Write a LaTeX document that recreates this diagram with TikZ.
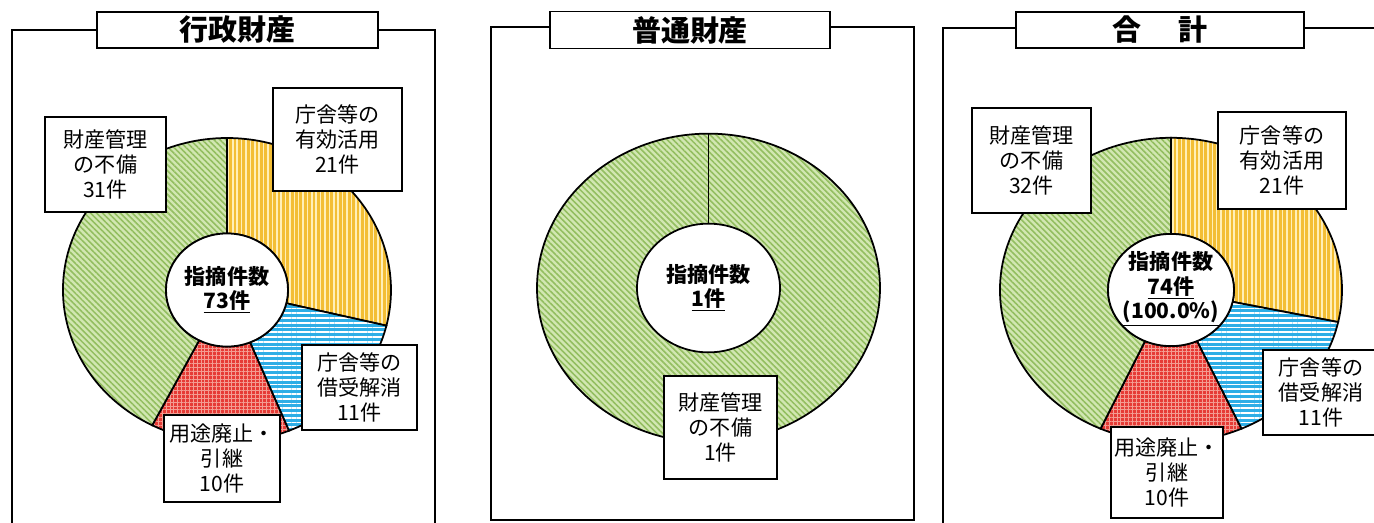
\documentclass[tikz,border=0pt]{standalone}
\usepackage{fontspec}
\setmainfont{Noto Sans CJK JP}
\usetikzlibrary{patterns.meta}

\definecolor{pieyellow}{HTML}{F3BE35}
\definecolor{pieyellowlt}{HTML}{FFEFB8}
\definecolor{pieblue}{HTML}{2EAEE6}
\definecolor{piered}{HTML}{E63B36}
\definecolor{pieredlt}{HTML}{F39C92}
\definecolor{piegreen}{HTML}{D2E7B2}
\definecolor{piegreendk}{HTML}{93BE60}

\tikzset{
  panelframe/.style={line width=1.1pt},
  titlebox/.style={draw, line width=1.1pt, fill=white, inner sep=0pt,
    font=\fontsize{16.5}{18}\selectfont\bfseries},
  labelbox/.style={draw, line width=1pt, fill=white, align=center, inner sep=0pt,
    font=\fontsize{12}{14.4}\selectfont},
  countlabel/.style={align=center, inner sep=0pt,
    font=\fontsize{12}{13.8}\selectfont\bfseries},
  hole/.style={draw, line width=1pt, fill=white},
  yellowpart/.style={draw, line width=1pt, preaction={fill=pieyellow},
    pattern={Lines[angle=90, distance=2.5pt, line width=0.9pt]}, pattern color=pieyellowlt},
  bluepart/.style={draw, line width=1pt, preaction={fill=pieblue},
    pattern={Lines[angle=0, distance=2.7pt, line width=1pt]}, pattern color=white},
  redpart/.style={draw, line width=1pt, preaction={fill=piered},
    pattern={Hatch[angle=0, distance=2.2pt, line width=0.5pt]}, pattern color=pieredlt},
  greenpart/.style={draw, line width=1pt, preaction={fill=piegreen},
    pattern={Lines[angle=-45, distance=2.4pt, line width=0.9pt]}, pattern color=piegreendk},
}

\begin{document}
\begin{tikzpicture}[x=0.02cm, y=-0.02cm]
\useasboundingbox (0,0) rectangle (1374,522);
\clip (0,0) rectangle (1374,522);

% Panel frames
\draw[panelframe] (12,30) rectangle (435,560);
\draw[panelframe] (491,27) rectangle (914,520);
\draw[panelframe] (943,28) rectangle (1400,560);

% Panel titles
\node[titlebox, minimum width=5.62cm, minimum height=0.72cm] (title1) at (237.5,30) {行政財産};
\node[titlebox, minimum width=5.60cm, minimum height=0.74cm] (title2) at (690,30) {普通財産};
\node[titlebox, minimum width=5.76cm, minimum height=0.72cm] (title3) at (1160,30) {合\hspace{1.3em}計};

% Pie 1: 21 / 11 / 10 / 31 of 73
\begin{scope}[shift={(227,290)}, x=0.02cm, y=0.01854cm]
\filldraw[yellowpart] (90:164) arc[start angle=90, end angle=-13.56, radius=164] -- (-13.56:61) arc[start angle=-13.56, end angle=90, radius=61] -- cycle;
\filldraw[bluepart] (-13.56:164) arc[start angle=-13.56, end angle=-67.81, radius=164] -- (-67.81:61) arc[start angle=-67.81, end angle=-13.56, radius=61] -- cycle;
\filldraw[redpart] (-67.81:164) arc[start angle=-67.81, end angle=-117.12, radius=164] -- (-117.12:61) arc[start angle=-117.12, end angle=-67.81, radius=61] -- cycle;
\filldraw[greenpart] (-117.12:164) arc[start angle=-117.12, end angle=-270, radius=164] -- (90:61) arc[start angle=90, end angle=242.88, radius=61] -- cycle;
\filldraw[hole] (0,0) circle[radius=61];
\node[countlabel] (count1) at (0,0) {指摘件数\\\underline{73件}};
\end{scope}

% Pie 2: 1 of 1
\begin{scope}[shift={(708.5,288)}, x=0.02cm, y=0.0180cm]
\filldraw[greenpart] (0,0) circle[radius=171.5];
\filldraw[hole] (0,0) circle[radius=71.5];
\draw[line width=1pt] (90:71.5) -- (90:171.5);
\node[countlabel] (count2) at (0,0) {指摘件数\\\underline{1件}};
\end{scope}

% Pie 3: 21 / 11 / 10 / 32 of 74
\begin{scope}[shift={(1171,290)}, x=0.02cm, y=0.0178cm]
\filldraw[yellowpart] (90:171) arc[start angle=90, end angle=-12.16, radius=171] -- (-12.16:63) arc[start angle=-12.16, end angle=90, radius=63] -- cycle;
\filldraw[bluepart] (-12.16:171) arc[start angle=-12.16, end angle=-65.68, radius=171] -- (-65.68:63) arc[start angle=-65.68, end angle=-12.16, radius=63] -- cycle;
\filldraw[redpart] (-65.68:171) arc[start angle=-65.68, end angle=-114.32, radius=171] -- (-114.32:63) arc[start angle=-114.32, end angle=-65.68, radius=63] -- cycle;
\filldraw[greenpart] (-114.32:171) arc[start angle=-114.32, end angle=-270, radius=171] -- (90:63) arc[start angle=90, end angle=245.68, radius=63] -- cycle;
\filldraw[hole] (0,0) circle[radius=63];
\node[countlabel] (count3) at (0,1) {指摘件数\\\underline{74件}\\\underline{(100.0\%)}};
\end{scope}

% Slice labels
\node[labelbox, minimum width=2.42cm, minimum height=1.90cm] (mgmt1) at (105.5,164.5) {財産管理\\の不備\\31件};
\node[labelbox, minimum width=2.58cm, minimum height=2.06cm] (use1) at (337.5,139.5) {庁舎等の\\有効活用\\21件};
\node[labelbox, minimum width=2.30cm, minimum height=1.70cm] (lease1) at (359.5,387.5) {庁舎等の\\借受解消\\11件};
\node[labelbox, minimum width=2.32cm, minimum height=1.74cm] (abol1) at (222,458.5) {用途廃止・\\引継\\10件};

\node[labelbox, minimum width=2.26cm, minimum height=2.06cm] (mgmt2) at (720.5,427.5) {財産管理\\の不備\\1件};

\node[labelbox, minimum width=2.38cm, minimum height=2.10cm] (mgmt3) at (1031.5,160.5) {財産管理\\の不備\\32件};
\node[labelbox, minimum width=2.56cm, minimum height=1.94cm] (use3) at (1282,160.5) {庁舎等の\\有効活用\\21件};
\node[labelbox, minimum width=2.32cm, minimum height=1.70cm] (lease3) at (1321,392.5) {庁舎等の\\借受解消\\11件};
\node[labelbox, minimum width=2.24cm, minimum height=1.82cm] (abol3) at (1167,472.5) {用途廃止・\\引継\\10件};
\end{tikzpicture}
\end{document}
